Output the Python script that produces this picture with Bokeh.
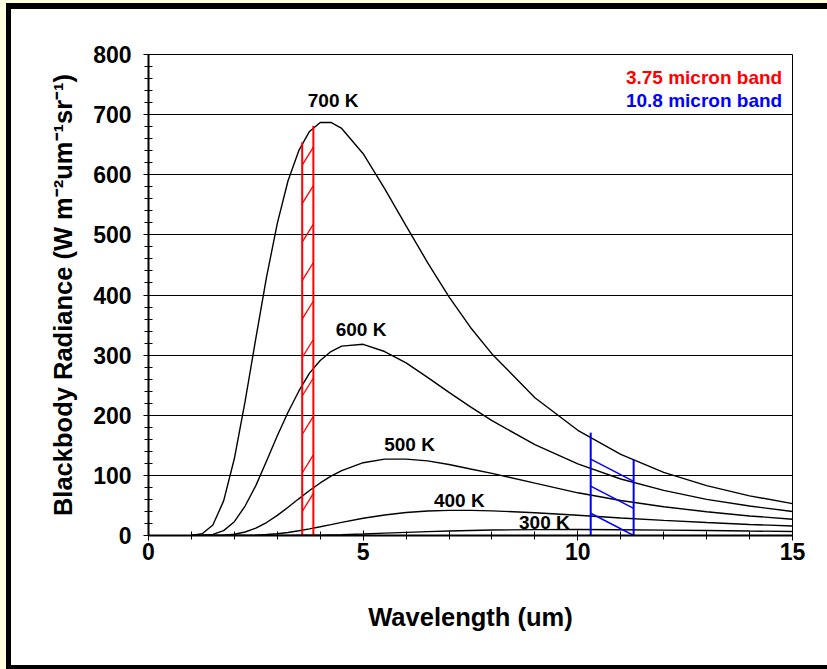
from bokeh.plotting import figure
from bokeh.models import Range1d, FixedTicker
from bokeh.embed import file_html
from bokeh.resources import INLINE
from bokeh.core.properties import value
import numpy as np

# ---- data ----
wavelength = [1.0, 1.25, 1.5, 1.75, 2.0, 2.25, 2.5, 2.75, 3.0, 3.25, 3.5, 3.75, 4.0, 4.25,
              4.5, 5.0, 5.5, 6.0, 6.5, 7.0, 7.5, 8, 9, 10, 11, 12, 13, 14, 15]
rad_700 = [0.1, 2.8, 17.6, 57.6, 128, 223, 328, 430, 519, 590, 640, 672, 687, 687, 677, 635,
           577, 515, 454, 397, 346, 302, 229, 175, 135, 105, 83, 66, 53]
rad_600 = [0, 0.2, 1.8, 8.1, 23, 49, 83, 124, 166, 205, 240, 270, 291, 306, 315, 318, 306,
           287, 263, 238, 214, 191, 151, 119, 94, 75, 60, 49, 40]
rad_500 = [0, 0, 0.1, 0.5, 2.1, 5.8, 12.2, 21.6, 33.5, 46.9, 61, 74.8, 87.4, 98.7, 107.9,
           121.1, 127.1, 127, 124.2, 118.1, 110.6, 103.4, 87, 71, 58.3, 47.9, 39.4, 32.5, 27]
rad_400 = [0, 0, 0, 0, 0.1, 0.2, 0.7, 1.6, 3.0, 5.1, 7.8, 11, 14.5, 18.1, 21.8, 28.7, 34.2,
           38.3, 40.7, 41.8, 41.8, 41, 37.8, 33.6, 29.2, 25.1, 21.5, 18.4, 15.7]
rad_300 = [0, 0, 0, 0, 0, 0, 0, 0, 0.1, 0.1, 0.3, 0.4, 0.7, 1.1, 1.5, 2.6, 3.9, 5.2, 6.4,
           7.5, 8.4, 9.1, 9.8, 9.9, 9.6, 9.0, 8.2, 7.4, 6.7]

curve_labels = ["700 K", "600 K", "500 K", "400 K", "300 K"]
label_x = [4.30, 4.95, 6.08, 7.24, 9.22]
label_y = [723, 343, 151, 59, 21]

red_band_x = [3.58, 3.84]
red_band_top = [654, 681]
blue_band_x = [10.3, 11.3]
blue_band_top = [171, 126]

band_names = ["3.75 micron band", "10.8 micron band"]
band_colors = ["#ff0000", "#0000ff"]

x_major = [0, 5, 10, 15]
y_major = [0, 100, 200, 300, 400, 500, 600, 700, 800]

FONT = "Liberation Sans"

p = figure(width=816, height=656, x_range=Range1d(0, 15), y_range=Range1d(0, 800),
           output_backend="svg", toolbar_location=None,
           min_border_left=137, min_border_right=35, min_border_top=45, min_border_bottom=130)
p.background_fill_color = "white"
p.border_fill_color = "white"
p.outline_line_color = "black"
p.outline_line_width = 1

p.xgrid.visible = False
p.ygrid.ticker = FixedTicker(ticks=y_major)
p.ygrid.grid_line_color = "black"
p.ygrid.grid_line_width = 1
p.ygrid.grid_line_alpha = 1

p.xaxis.ticker = FixedTicker(ticks=x_major, minor_ticks=list(range(0, 16)))
p.yaxis.ticker = FixedTicker(ticks=y_major, minor_ticks=list(range(0, 801, 20)))
for ax in (p.xaxis, p.yaxis):
    ax.axis_line_color = "black"
    ax.axis_line_width = 2
    ax.major_tick_line_color = "black"
    ax.minor_tick_line_color = "black"
    ax.major_tick_line_width = 1
    ax.minor_tick_line_width = 1
    ax.major_tick_in = 5
    ax.major_tick_out = 5
    ax.minor_tick_in = 4
    ax.minor_tick_out = 4
    ax.major_label_text_font = FONT
    ax.major_label_text_font_style = "bold"
    ax.major_label_text_font_size = "23px"
    ax.major_label_text_color = "black"
    ax.axis_label_text_font = FONT
    ax.axis_label_text_font_style = "bold"
    ax.axis_label_text_font_size = "25.5px"
    ax.axis_label_text_color = "black"

p.xaxis.axis_label = "Wavelength (um)"
p.yaxis.axis_label = "Blackbody Radiance (W m\u207b\u00b2um\u207b\u00b9sr\u207b\u00b9)"
p.xaxis.major_label_standoff = 2
p.xaxis.axis_label_standoff = 40
p.yaxis.major_label_standoff = 12
p.yaxis.axis_label_standoff = 13

# curves
for ys in (rad_700, rad_600, rad_500, rad_400, rad_300):
    p.line(wavelength, ys, line_color="black", line_width=1.4)

# bands
p.segment(x0=red_band_x, y0=[0, 0], x1=red_band_x, y1=red_band_top, line_color="#ff0000", line_width=2)
p.segment(x0=blue_band_x, y0=[0, 0], x1=blue_band_x, y1=blue_band_top, line_color="#0000ff", line_width=2)

# hatching inside bands
rh = np.arange(40, 630, 64)
p.segment(x0=[red_band_x[0]] * len(rh), y0=rh, x1=[red_band_x[1]] * len(rh), y1=rh + 30,
          line_color="#ff0000", line_width=1.3)
bh = np.arange(37, 170, 45)
p.segment(x0=[blue_band_x[0]] * len(bh), y0=bh, x1=[blue_band_x[1]] * len(bh), y1=bh - 37,
          line_color="#0000ff", line_width=1.5)

# curve labels
p.text(x=label_x, y=label_y, text=curve_labels, text_font=value(FONT), text_font_style="bold",
       text_font_size="19px", text_align="center", text_baseline="middle", text_color="black")

# band legend
p.text(x=[14.76, 14.76], y=[761, 723], text=band_names, text_color=band_colors,
       text_font=value(FONT), text_font_style="bold", text_font_size="19px",
       text_align="right", text_baseline="middle")

p.styles = {"margin-left": "11px", "margin-top": "9px",
            "box-shadow": "-5px 0 0 0 #000, 0 -6px 0 0 #000, -5px -6px 0 0 #000, 0 4px 0 0 #000, -5px 4px 0 0 #000"}

html = file_html(p, INLINE)
html = html.replace("<head>", "<head><style>body{background:#ffffe0;overflow:hidden;}</style>", 1)
open("out.html", "w").write(html)
